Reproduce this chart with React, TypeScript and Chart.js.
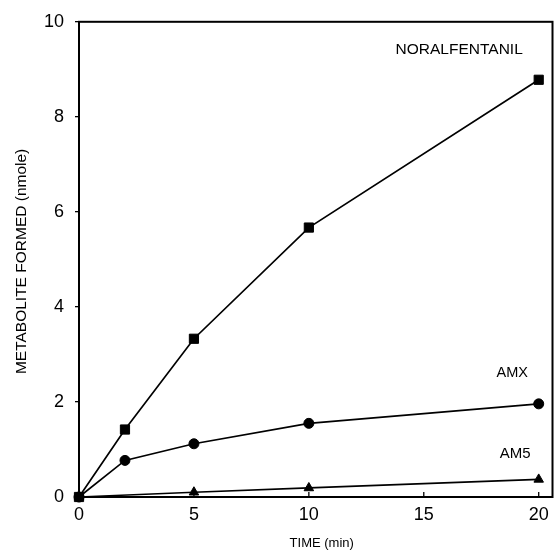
import React, { useEffect, useRef } from "react";
import { Chart, registerables } from "chart.js";

Chart.register(...registerables);

// ---- data ----
const times = [0, 2, 5, 10, 20];
const am5Times = [0, 5, 10, 20];
const noralfentanil = [0, 1.42, 3.33, 5.67, 8.78];
const amx = [0, 0.77, 1.12, 1.55, 1.96];
const am5 = [0, 0.1, 0.19, 0.37];
const xTicks = [0, 5, 10, 15, 20];
const yTicks = [0, 2, 4, 6, 8, 10];
const seriesLabels = ["NORALFENTANIL", "AMX", "AM5"];
const labelAnchorX = [16.54, 18.85, 18.98];
const labelAnchorY = [9.42, 2.6, 0.915];
const labelSizes = [15.5, 14.5, 15];
const xTitle = "TIME (min)";
const yTitle = "METABOLITE FORMED (nmole)";

const FONT = "'Liberation Sans', Arial, sans-serif";

const decorPlugin = {
  id: "decor",
  beforeDatasetsDraw(chart: any) {
    const { ctx, chartArea } = chart;
    const xs = chart.scales.x;
    ctx.save();
    ctx.strokeStyle = "#000";
    ctx.lineWidth = 2;
    ctx.strokeRect(chartArea.left, chartArea.top, chartArea.right - chartArea.left, chartArea.bottom - chartArea.top);
    ctx.lineWidth = 1.3;
    xTicks.forEach((v) => {
      const px = xs.getPixelForValue(v);
      ctx.beginPath();
      ctx.moveTo(px, chartArea.bottom);
      ctx.lineTo(px, chartArea.bottom - 5);
      ctx.stroke();
    });
    ctx.restore();
  },
  afterDatasetsDraw(chart: any) {
    const { ctx, chartArea } = chart;
    const xs = chart.scales.x;
    const ys = chart.scales.y;
    ctx.save();
    ctx.fillStyle = "#000";
    ctx.textAlign = "center";
    ctx.textBaseline = "middle";
    seriesLabels.forEach((t, i) => {
      ctx.font = `${labelSizes[i]}px ${FONT}`;
      ctx.fillText(t, xs.getPixelForValue(labelAnchorX[i]), ys.getPixelForValue(labelAnchorY[i]));
    });
    ctx.font = `13px ${FONT}`;
    ctx.fillText(xTitle, (chartArea.left + chartArea.right) / 2 + 6, chartArea.bottom + 46);
    ctx.translate(22, (chartArea.top + chartArea.bottom) / 2 + 2);
    ctx.rotate(-Math.PI / 2);
    ctx.font = `15.5px ${FONT}`;
    ctx.fillText(yTitle, 0, 0);
    ctx.restore();
  },
};

export default function App() {
  const ref = useRef<HTMLCanvasElement | null>(null);
  useEffect(() => {
    if (!ref.current) return;
    const common = {
      borderColor: "#000",
      backgroundColor: "#000",
      pointBackgroundColor: "#000",
      pointBorderColor: "#000",
      pointBorderWidth: 1,
      borderWidth: 1.7,
      tension: 0,
      clip: false as any,
      showLine: true,
    };
    const chart = new Chart(ref.current, {
      type: "scatter",
      data: {
        datasets: [
          {
            ...common,
            label: seriesLabels[1],
            data: times.map((t, i) => ({ x: t, y: amx[i] })),
            pointStyle: "circle",
            pointRadius: 5,
          },
          {
            ...common,
            label: seriesLabels[0],
            data: times.map((t, i) => ({ x: t, y: noralfentanil[i] })),
            pointStyle: "rect",
            pointRadius: 6.5,
          },
          {
            ...common,
            label: seriesLabels[2],
            data: am5Times.map((t, i) => ({ x: t, y: am5[i] })),
            pointStyle: "triangle",
            pointRadius: 5.5,
          },
        ],
      },
      options: {
        animation: false,
        responsive: false,
        layout: { padding: { top: 16, right: 7, left: 0, bottom: 0 } },
        plugins: { legend: { display: false }, tooltip: { enabled: false } },
        scales: {
          x: {
            type: "linear",
            min: 0,
            max: 20.6,
            afterBuildTicks: (s: any) => {
              s.ticks = xTicks.map((v) => ({ value: v }));
            },
            afterFit: (s: any) => {
              s.height = 55;
            },
            grid: { display: false, drawTicks: false },
            border: { display: false },
            ticks: { color: "#000", padding: 7, maxRotation: 0, font: { family: FONT, size: 18 } },
          },
          y: {
            type: "linear",
            min: 0,
            max: 10,
            afterBuildTicks: (s: any) => {
              s.ticks = yTicks.map((v) => ({ value: v }));
            },
            afterFit: (s: any) => {
              s.width = 79;
            },
            grid: { display: true, drawOnChartArea: false, drawTicks: true, tickLength: 4, color: "#000", lineWidth: 1.3 },
            border: { display: false },
            ticks: { color: "#000", padding: 11, font: { family: FONT, size: 18 } },
          },
        },
      },
      plugins: [decorPlugin],
    });
    return () => chart.destroy();
  }, []);
  return (
    <div style={{ position: "fixed", left: 0, top: 0, width: 560, height: 552, background: "#fff" }}>
      <canvas ref={ref} width={560} height={552} style={{ display: "block" }} />
    </div>
  );
}
